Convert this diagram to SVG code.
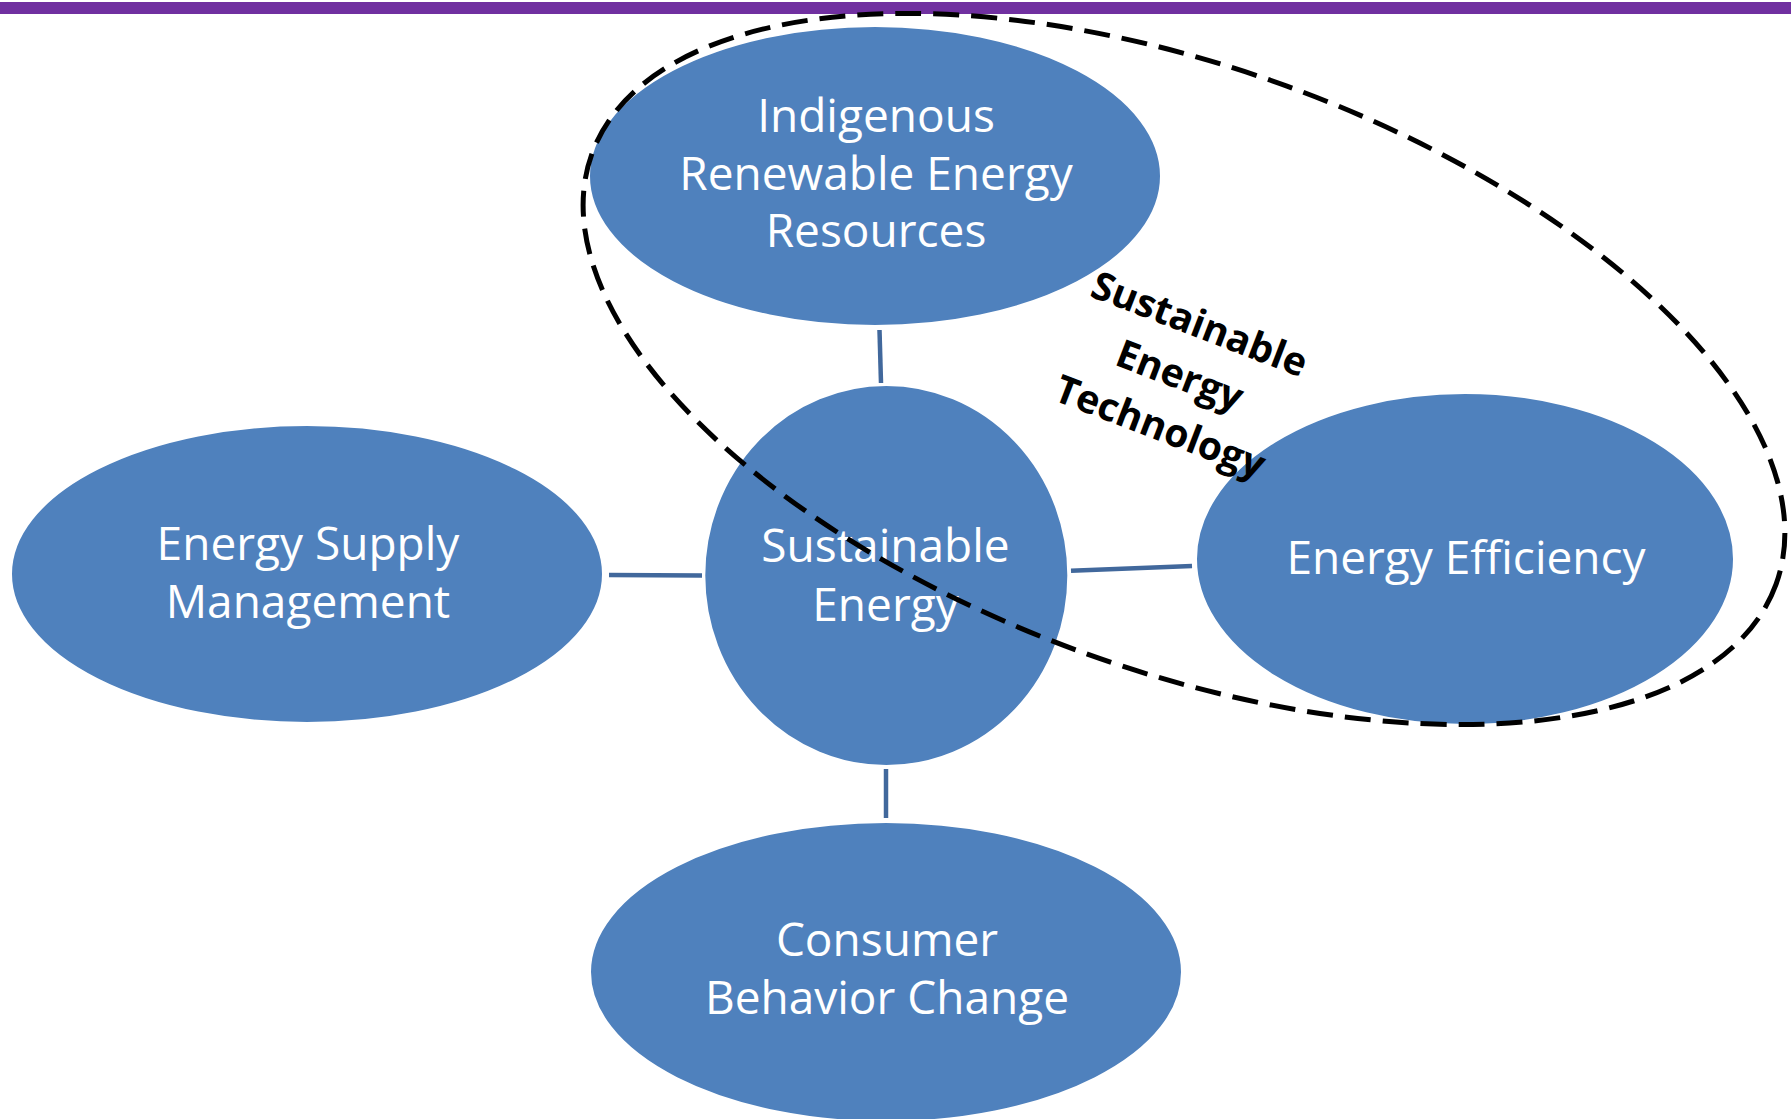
<svg xmlns="http://www.w3.org/2000/svg" width="1791" height="1119" viewBox="0 0 1791 1119">
  <style>
    .node { fill: #4F81BD; stroke: #FFFFFF; stroke-width: 2; }
    .label { font-family: "Open Sans", "Noto Sans", "Liberation Sans", sans-serif; font-size: 46px; fill: #FFFFFF; text-anchor: middle; }
    .link { stroke: #41689C; stroke-width: 4.5; fill: none; }
    .group-outline { fill: none; stroke: #000000; stroke-width: 5; stroke-dasharray: 26 12; }
    .group-label { font-family: "Open Sans", "Noto Sans", "Liberation Sans", sans-serif; font-size: 39px; font-weight: bold; fill: #000000; text-anchor: middle; }
  </style>

  <rect x="0" y="0" width="1791" height="1119" fill="#FFFFFF"/>
  <!-- title rule -->
  <rect x="0" y="2" width="1791" height="12" fill="#7030A0"/>

  <!-- spokes from the hub to each outer node -->
  <g id="connectors">
    <line class="link" x1="879.5" y1="330" x2="881" y2="383"/>
    <line class="link" x1="609" y1="575" x2="702" y2="575.5"/>
    <line class="link" x1="1071" y1="570.7" x2="1192" y2="566"/>
    <line class="link" x1="886" y1="769" x2="886" y2="818"/>
  </g>

  <g id="node-indigenous">
    <ellipse class="node" cx="875" cy="176" rx="286" ry="150"/>
    <text class="label" x="876" y="132">Indigenous</text>
    <text class="label" x="876" y="189.5">Renewable Energy</text>
    <text class="label" x="876" y="247">Resources</text>
  </g>

  <g id="node-supply">
    <ellipse class="node" cx="307" cy="574" rx="296" ry="149"/>
    <text class="label" x="308" y="560">Energy Supply</text>
    <text class="label" x="308" y="617.5">Management</text>
  </g>

  <g id="node-hub">
    <ellipse class="node" cx="886.3" cy="575.5" rx="182" ry="190.5"/>
    <text class="label" x="885.5" y="561.5">Sustainable</text>
    <text class="label" x="885.5" y="620.5">Energy</text>
  </g>

  <g id="node-efficiency">
    <ellipse class="node" cx="1465" cy="559" rx="269" ry="166"/>
    <text class="label" x="1466" y="573.5">Energy Efficiency</text>
  </g>

  <g id="node-consumer">
    <ellipse class="node" cx="886" cy="972" rx="296" ry="150"/>
    <text class="label" x="887" y="956">Consumer</text>
    <text class="label" x="887" y="1013.5">Behavior Change</text>
  </g>

  <!-- dashed grouping around the technology-related nodes -->
  <g id="group-technology">
    <ellipse class="group-outline" cx="1184" cy="369" rx="630" ry="301" transform="rotate(20 1184 369)"/>
    <g transform="translate(1180 375) rotate(21)">
      <text class="group-label" x="0" y="-41">Sustainable</text>
      <text class="group-label" x="0" y="14">Energy</text>
      <text class="group-label" x="0" y="69">Technology</text>
    </g>
  </g>
</svg>
